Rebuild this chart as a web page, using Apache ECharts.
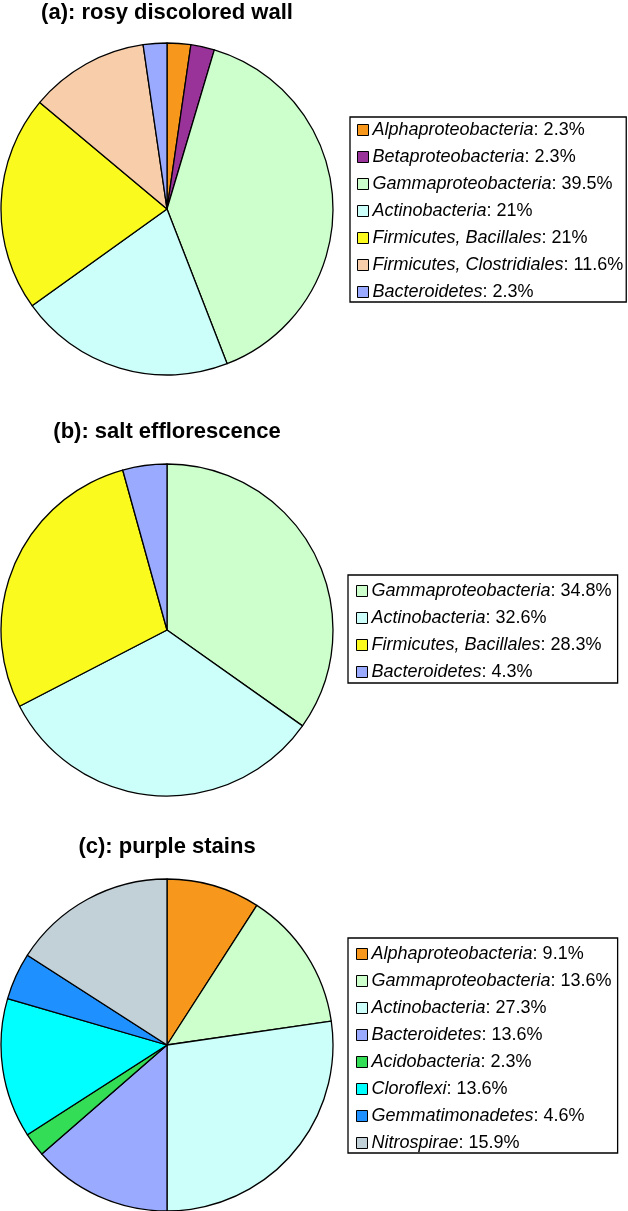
<!DOCTYPE html>
<html>
<head>
<meta charset="utf-8">
<script src="https://cdn.jsdelivr.net/npm/echarts@6/dist/echarts.min.js"></script>
<style>
html,body{margin:0;padding:0;background:#fff;}
#chart{width:628px;height:1211px;}
</style>
</head>
<body>
<div id="chart"></div>
<script>
// Panel titles
const titles = ['(a): rosy discolored wall', '(b): salt efflorescence', '(c): purple stains'];

// Panel (a)
const catsA = ['Alphaproteobacteria', 'Betaproteobacteria', 'Gammaproteobacteria', 'Actinobacteria', 'Firmicutes, Bacillales', 'Firmicutes, Clostridiales', 'Bacteroidetes'];
const valsA = [2.3, 2.3, 39.5, 21, 21, 11.6, 2.3];

// Panel (b)
const catsB = ['Gammaproteobacteria', 'Actinobacteria', 'Firmicutes, Bacillales', 'Bacteroidetes'];
const valsB = [34.8, 32.6, 28.3, 4.3];

// Panel (c)
const catsC = ['Alphaproteobacteria', 'Gammaproteobacteria', 'Actinobacteria', 'Bacteroidetes', 'Acidobacteria', 'Cloroflexi', 'Gemmatimonadetes', 'Nitrospirae'];
const valsC = [9.1, 13.6, 27.3, 13.6, 2.3, 13.6, 4.6, 15.9];

// Colours per taxon
const colorMap = {
  'Alphaproteobacteria': '#F7981C',
  'Betaproteobacteria': '#993399',
  'Gammaproteobacteria': '#CCFFCC',
  'Actinobacteria': '#CCFFF9',
  'Firmicutes, Bacillales': '#FAFA1E',
  'Firmicutes, Clostridiales': '#F8CDAA',
  'Bacteroidetes': '#99AAFF',
  'Acidobacteria': '#33DD55',
  'Cloroflexi': '#00FFFF',
  'Gemmatimonadetes': '#1E90FF',
  'Nitrospirae': '#C2D1D8'
};

const FONT = 'Liberation Sans, Arial, sans-serif';

function pieData(cats, vals) {
  return cats.map((c, i) => ({ name: c, value: vals[i], itemStyle: { color: colorMap[c] } }));
}

const panels = [
  { cats: catsA, vals: valsA, cy: 209, titleY: 13, legLeft: 350, legTop: 117, pad: [4, 3, 1, 7] },
  { cats: catsB, vals: valsB, cy: 630, titleY: 432, legLeft: 348, legTop: 575, pad: [7, 6, 2, 8] },
  { cats: catsC, vals: valsC, cy: 1045, titleY: 847, legLeft: 348, legTop: 938, pad: [7, 6, 1, 8] }
];

const series = panels.map((p, k) => ({
  type: 'pie',
  center: [167, p.cy],
  radius: 166,
  startAngle: 90,
  clockwise: true,
  animation: false,
  silent: true,
  label: { show: false },
  labelLine: { show: false },
  emphasis: { disabled: true },
  itemStyle: { borderColor: '#000', borderWidth: 1.3 },
  data: pieData(p.cats, p.vals)
}));

const legends = panels.map((p, k) => ({
  orient: 'vertical',
  left: p.legLeft,
  top: p.legTop,
  data: p.cats,
  selectedMode: false,
  icon: 'rect',
  itemWidth: 11,
  itemHeight: 11,
  itemGap: 9,
  padding: p.pad,
  borderColor: '#000',
  borderWidth: 1.3,
  backgroundColor: '#fff',
  itemStyle: { borderColor: '#000', borderWidth: 1 },
  formatter: function (name) {
    const idx = p.cats.indexOf(name);
    return '{i|' + name + '}{n|: ' + String(p.vals[idx]) + '%}';
  },
  textStyle: {
    color: '#000',
    fontFamily: FONT,
    fontSize: 18,
    padding: [0, 0, 0, -1],
    rich: {
      i: { fontStyle: 'italic', fontFamily: FONT, fontSize: 18, color: '#000' },
      n: { fontFamily: FONT, fontSize: 18, color: '#000' }
    }
  }
}));

const graphics = panels.map((p, k) => ({
  type: 'text',
  x: 167,
  y: p.titleY,
  style: {
    text: titles[k],
    fill: '#000',
    font: 'bold 22px ' + FONT,
    align: 'center',
    verticalAlign: 'middle'
  }
}));

const chart = echarts.init(document.getElementById('chart'), null, { renderer: 'canvas' });
chart.setOption({
  backgroundColor: '#fff',
  animation: false,
  legend: legends,
  graphic: graphics,
  series: series
});
</script>
</body>
</html>
